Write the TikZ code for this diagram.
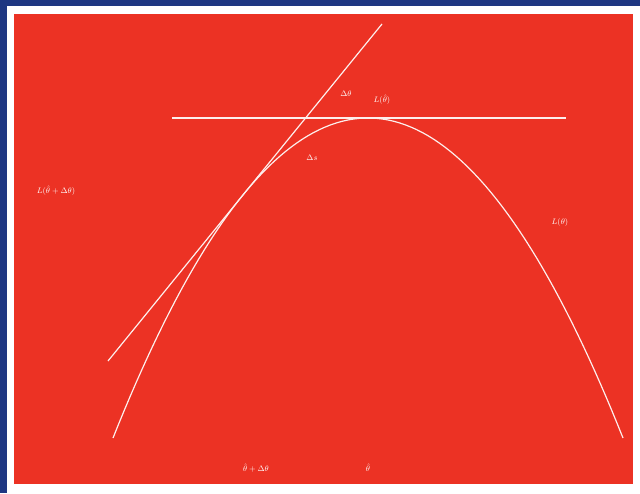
\documentclass[tikz,border=0pt]{standalone}
\usepackage{tikz}

\definecolor{frameblue}{RGB}{30,55,130}
\definecolor{plotred}{RGB}{236,50,36}

\begin{document}
\begin{tikzpicture}[x=1pt, y=-1pt,
  lbl/.style={text=white, font=\footnotesize, inner sep=1pt},
  curve/.style={draw=white!92!plotred, line width=1.2pt},
]
  \useasboundingbox (0,0) rectangle (640,493);
  % frame
  \fill[white] (0,0) rectangle (640,493);
  \fill[frameblue] (0,0) rectangle (640,6);
  \fill[frameblue] (0,0) rectangle (7,493);
  \fill[plotred] (14,14) rectangle (633,484);

  % loss curve, tangent and max level
  \draw[curve] plot[domain=113:623, samples=90] (\x, {118+320*((\x-368)/255)^2});
  \draw[curve] (108,361) -- (382,24);
  \draw[curve] (172,118) -- (566,118);

  % labels
  \node[lbl] (dtheta) at (346,94) {$\Delta\theta$};
  \node[lbl] (lmax) at (382,100) {$L(\hat\theta)$};
  \node[lbl] (ds) at (312,158) {$\Delta s$};
  \node[lbl] (lshift) at (56,191) {$L(\hat\theta+\Delta\theta)$};
  \node[lbl] (ltheta) at (560,222) {$L(\theta)$};
  \node[lbl] (xshift) at (256,468) {$\hat\theta+\Delta\theta$};
  \node[lbl] (xmax) at (368,468) {$\hat\theta$};
\end{tikzpicture}
\end{document}
